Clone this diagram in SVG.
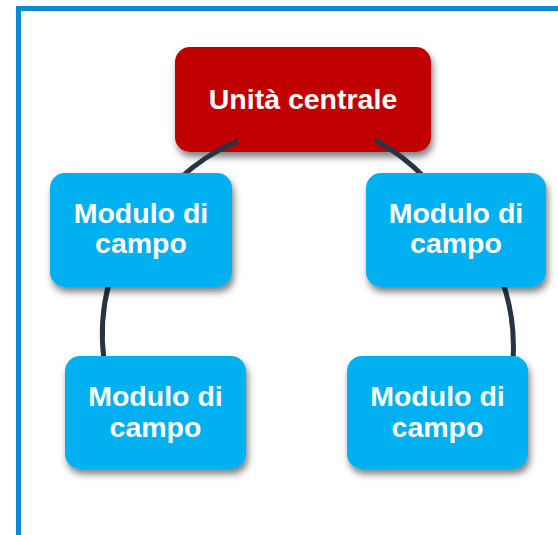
<svg xmlns="http://www.w3.org/2000/svg" width="558" height="535" viewBox="0 0 558 535">
<defs>
<filter id="sh" x="-20%" y="-20%" width="150%" height="160%">
<feDropShadow dx="2" dy="5" stdDeviation="3.5" flood-color="#000" flood-opacity="0.5"/>
</filter>
<style>
.lbl{font-family:"Liberation Sans",Arial,sans-serif;font-weight:bold;font-size:28.5px;fill:#fff;text-anchor:middle}
.blue{fill:#00b0f0;filter:url(#sh)}
.red{fill:#c00000;filter:url(#sh)}
.conn{fill:none;stroke:#263443;stroke-width:5}
</style>
</defs>
<rect x="0" y="0" width="558" height="535" fill="#fff"/>
<rect x="18.5" y="8.5" width="600" height="600" fill="none" stroke="#0a8ad6" stroke-width="5"/>
<g id="n0">
<rect class="red" x="175" y="47" width="256" height="105" rx="15"/>
<text class="lbl" x="303" y="109">Unità centrale</text>
</g>
<g id="connectors">
<path class="conn" d="M238,141 A200,200 0 0 0 178,180"/>
<path class="conn" d="M375,140 A200,200 0 0 1 425,178"/>
<path class="conn" d="M109,283 A200,200 0 0 0 104,360"/>
<path class="conn" d="M503,283 A200,200 0 0 1 513,360"/>
</g>
<g id="n1">
<rect class="blue" x="50" y="173" width="182" height="114" rx="15"/>
<text class="lbl" x="141" y="223">Modulo di</text>
<text class="lbl" x="141" y="253">campo</text>
</g>
<g id="n2">
<rect class="blue" x="366" y="173" width="180" height="114" rx="15"/>
<text class="lbl" x="456" y="223">Modulo di</text>
<text class="lbl" x="456" y="253">campo</text>
</g>
<g id="n3">
<rect class="blue" x="65" y="356" width="181" height="113" rx="15"/>
<text class="lbl" x="155.5" y="406">Modulo di</text>
<text class="lbl" x="155.5" y="437">campo</text>
</g>
<g id="n4">
<rect class="blue" x="347" y="356" width="181" height="113" rx="15"/>
<text class="lbl" x="437.5" y="406">Modulo di</text>
<text class="lbl" x="437.5" y="437">campo</text>
</g>
</svg>
